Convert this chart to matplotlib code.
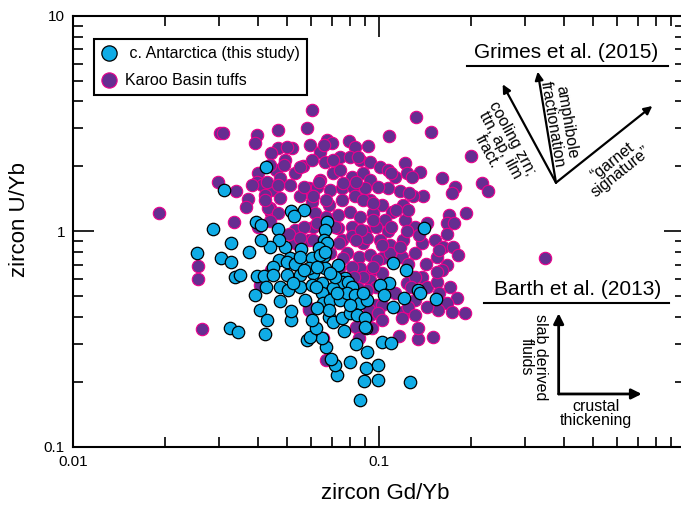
import numpy as np
import matplotlib
matplotlib.use('Agg')
import matplotlib.pyplot as plt
from matplotlib.lines import Line2D
from matplotlib import ticker

plt.rcParams['font.family'] = ['Liberation Sans', 'DejaVu Sans']

# zircon Gd/Yb and U/Yb, c. Antarctica (this study)
antarctica_gd_yb = [
    0.0427, 0.0312, 0.0286, 0.0253, 0.0328, 0.0375, 0.0304, 0.0327, 0.0337, 0.0351,
    0.0398, 0.0419, 0.0393, 0.0408, 0.0428, 0.0325, 0.0345, 0.0424, 0.0396, 0.0410,
    0.0513, 0.0568, 0.0526, 0.0468, 0.0492, 0.0471, 0.0439, 0.0412, 0.0677, 0.0665,
    0.0658, 0.0675, 0.0637, 0.0658, 0.0555, 0.0510, 0.0471, 0.0449, 0.0448, 0.0426,
    0.1395, 0.1109, 0.1224, 0.1074, 0.1006, 0.1040, 0.1341, 0.1363, 0.1204, 0.1529,
    0.1109, 0.0863, 0.1256, 0.0891, 0.0989, 0.0989, 0.0906, 0.0912, 0.0840, 0.1021,
    0.1094, 0.0802, 0.0725, 0.0714, 0.0697, 0.0669, 0.0651, 0.0581, 0.0593, 0.0622,
    0.0767, 0.0906, 0.0515, 0.0515, 0.0498, 0.0530, 0.0551, 0.0602, 0.0640, 0.0665,
    0.0498, 0.0551, 0.0609, 0.0665, 0.0735, 0.0773, 0.0754, 0.0474, 0.0504, 0.0551,
    0.0602, 0.0648, 0.0705, 0.0792, 0.0812, 0.0474, 0.0572, 0.0648, 0.0656, 0.0690,
    0.0744, 0.0783, 0.0833, 0.0865, 0.0910, 0.0887, 0.0602, 0.0683, 0.0705, 0.0754,
    0.0802, 0.0843, 0.0898, 0.0898, 0.0717, 0.0588, 0.0524, 0.0725, 0.0683, 0.0802,
    0.0624, 0.0622, 0.0691, 0.0626, 0.0568,
]
antarctica_u_yb = [
    1.98, 1.55, 1.02, 0.790, 0.885, 0.804, 0.754, 0.720, 0.611, 0.626,
    0.620, 0.620, 0.508, 0.431, 0.387, 0.357, 0.341, 0.334, 1.10, 1.07,
    1.24, 1.26, 1.17, 1.02, 0.848, 0.910, 0.848, 0.910, 1.10, 1.01,
    0.910, 0.879, 0.833, 0.768, 0.824, 0.748, 0.735, 0.684, 0.626, 0.553,
    1.04, 0.710, 0.661, 0.573, 0.563, 0.506, 0.534, 0.516, 0.489, 0.484,
    0.447, 0.164, 0.200, 0.202, 0.203, 0.239, 0.233, 0.274, 0.299, 0.305,
    0.304, 0.246, 0.215, 0.239, 0.256, 0.291, 0.321, 0.313, 0.323, 0.354,
    0.343, 0.354, 0.387, 0.427, 0.720, 0.708, 0.762, 0.748, 0.776, 0.804,
    0.626, 0.626, 0.637, 0.673, 0.697, 0.604, 0.583, 0.553, 0.534, 0.553,
    0.563, 0.573, 0.543, 0.583, 0.553, 0.472, 0.480, 0.516, 0.462, 0.480,
    0.480, 0.516, 0.506, 0.462, 0.480, 0.516, 0.387, 0.401, 0.380, 0.394,
    0.416, 0.408, 0.394, 0.360, 0.614, 0.673, 0.573, 0.516, 0.431, 0.455,
    0.440, 0.553, 0.637, 0.684, 0.661,
]

# Karoo Basin tuffs
karoo_gd_yb = [
    0.0191, 0.0302, 0.0309, 0.0397, 0.0393, 0.0298, 0.0340, 0.0336, 0.0255, 0.0256,
    0.0264, 0.0601, 0.0467, 0.0581, 0.1321, 0.1479, 0.1074, 0.1987, 0.2161, 0.2262,
    0.1922, 0.3485, 0.1903, 0.1501, 0.1341, 0.1341, 0.1158, 0.0840, 0.0654, 0.0669,
    0.0402, 0.0407, 0.0518, 0.0594, 0.0674, 0.0703, 0.0798, 0.0833, 0.0921, 0.0640,
    0.0465, 0.0444, 0.0492, 0.0563, 0.0602, 0.0665, 0.0744, 0.0802, 0.0865, 0.0932,
    0.1005, 0.1070, 0.1213, 0.0458, 0.0474, 0.0530, 0.0640, 0.0707, 0.0744, 0.0812,
    0.0887, 0.0932, 0.1125, 0.1228, 0.0444, 0.0511, 0.0588, 0.0624, 0.0690, 0.0754,
    0.0818, 0.0898, 0.1070, 0.1168, 0.0474, 0.0551, 0.0602, 0.0683, 0.0754, 0.0833,
    0.0932, 0.1018, 0.1098, 0.1198, 0.0439, 0.0617, 0.0735, 0.0802, 0.0865, 0.0955,
    0.1044, 0.1213, 0.0530, 0.0609, 0.0735, 0.0812, 0.0898, 0.0977, 0.1070, 0.0444,
    0.0754, 0.0812, 0.0887, 0.1005, 0.1084, 0.1198, 0.0530, 0.0588, 0.0402, 0.0398,
    0.0414, 0.0431, 0.0373, 0.0368, 0.0423, 0.0434, 0.1599, 0.1768, 0.1725, 0.1358,
    0.1275, 0.1392, 0.1291, 0.1694, 0.1660, 0.1432, 0.1309, 0.1660, 0.1521, 0.1376,
    0.1620, 0.1746, 0.1812, 0.1660, 0.1599, 0.1376, 0.1432, 0.1540, 0.1702, 0.1790,
    0.1660, 0.1725, 0.1558, 0.1309, 0.1417, 0.1540, 0.1309, 0.0783, 0.0859, 0.0932,
    0.1018, 0.1084, 0.1183, 0.0865, 0.0944, 0.1018, 0.0932, 0.0977, 0.0910, 0.1228,
    0.1198, 0.0977, 0.0932, 0.0944, 0.0859, 0.0588, 0.0444, 0.1183, 0.1250, 0.1135,
    0.1242, 0.1750, 0.0957, 0.1092, 0.1230, 0.1350, 0.0911, 0.1021, 0.1165, 0.1565,
    0.0986, 0.1242, 0.0957, 0.1308, 0.1540, 0.0884, 0.1265, 0.1565, 0.1242, 0.1308,
    0.1428, 0.0884, 0.0926, 0.1021, 0.0498, 0.0658, 0.0439, 0.0490, 0.0549, 0.0706,
    0.0855, 0.1092, 0.0384, 0.0465, 0.0568, 0.0637, 0.0763, 0.0840, 0.0989, 0.0423,
    0.0607, 0.0669, 0.0884, 0.0957, 0.0465, 0.0669, 0.0441, 0.0568, 0.0626, 0.0714,
    0.0869, 0.0506, 0.0549, 0.0607, 0.0738, 0.0840, 0.0691, 0.0763, 0.0816, 0.0738,
    0.0827, 0.0855, 0.0588, 0.0989, 0.1021, 0.1127,
]
karoo_u_yb = [
    1.22, 2.87, 2.85, 2.80, 2.56, 1.69, 1.53, 1.10, 0.690, 0.602,
    0.350, 3.64, 2.95, 3.00, 3.40, 2.89, 2.77, 2.24, 1.67, 1.53,
    1.21, 0.754, 0.416, 0.324, 0.317, 0.354, 0.327, 0.358, 0.319, 0.252,
    1.05, 0.563, 2.42, 2.51, 2.65, 2.56, 2.63, 2.47, 2.48, 2.34,
    2.42, 2.30, 2.14, 2.01, 2.14, 2.10, 2.22, 2.20, 2.14, 2.10,
    1.98, 1.92, 2.07, 1.92, 1.76, 1.86, 1.73, 1.86, 1.92, 1.79,
    1.86, 1.73, 1.79, 1.86, 1.55, 1.64, 1.58, 1.61, 1.55, 1.58,
    1.61, 1.58, 1.58, 1.53, 1.42, 1.45, 1.37, 1.32, 1.40, 1.45,
    1.40, 1.32, 1.23, 1.32, 1.28, 1.21, 1.19, 1.23, 1.16, 1.21,
    1.13, 1.13, 1.01, 1.05, 1.03, 1.05, 1.00, 1.05, 1.00, 1.21,
    0.910, 0.945, 0.879, 0.910, 0.863, 0.910, 0.879, 0.910, 1.86, 1.70,
    1.64, 1.70, 1.41, 1.29, 1.47, 1.28, 1.76, 1.60, 1.51, 1.89,
    1.79, 1.46, 1.45, 1.19, 1.09, 1.09, 1.05, 0.975, 0.910, 0.879,
    0.848, 0.848, 0.776, 0.697, 0.661, 0.615, 0.553, 0.583, 0.553, 0.489,
    0.462, 0.423, 0.431, 0.480, 0.708, 0.762, 0.790, 0.790, 0.762, 0.776,
    0.748, 0.790, 0.762, 0.673, 0.661, 0.637, 0.594, 0.553, 0.534, 0.573,
    0.423, 0.455, 0.408, 0.354, 0.319, 0.440, 0.661, 0.394, 1.50, 1.25,
    1.25, 1.09, 1.13, 1.05, 1.00, 0.960, 0.931, 0.863, 0.848, 0.818,
    0.735, 0.708, 0.684, 0.615, 0.650, 0.615, 0.553, 0.516, 0.447, 0.408,
    0.447, 0.489, 0.431, 0.455, 2.47, 2.51, 2.03, 2.03, 1.99, 2.14,
    2.22, 1.86, 1.64, 1.64, 1.61, 1.70, 1.67, 1.70, 1.61, 1.40,
    1.45, 1.40, 1.40, 1.35, 1.21, 1.16, 1.11, 1.05, 1.09, 1.05,
    1.01, 0.975, 0.927, 0.910, 0.879, 0.910, 0.790, 0.748, 0.684, 0.673,
    0.615, 0.543, 0.431, 0.419, 0.387, 0.516,
]

x_ticks = [0.01, 0.1, 1]
x_tick_labels = ['0.01', '0.1', '']   # 1 lies past the image edge
y_ticks = [0.1, 1, 10]
y_tick_labels = ['0.1', '1', '10']

blue = '#10ACE6'
purple = '#662D91'
magenta = '#EC008C'

fig = plt.figure(figsize=(6.81, 5.08), dpi=100)
# axes run to Gd/Yb = 1, a few pixels past the right edge of the image
ax = fig.add_axes([0.1076, 0.1207, 0.8987, 0.8484])

ax.scatter(karoo_gd_yb, karoo_u_yb, s=80, c=purple, edgecolors=magenta, linewidths=0.8, zorder=2)
ax.scatter(antarctica_gd_yb, antarctica_u_yb, s=80, c=blue, edgecolors='black', linewidths=0.9, zorder=3)

ax.set_xscale('log')
ax.set_yscale('log')
ax.set_xlim(0.01, 1)
ax.set_ylim(0.1, 10)
ax.set_xticks(x_ticks, x_tick_labels)
ax.set_yticks(y_ticks, y_tick_labels)
ax.xaxis.set_minor_formatter(ticker.NullFormatter())
ax.yaxis.set_minor_formatter(ticker.NullFormatter())
ax.tick_params(which='both', direction='in', top=True, right=True, width=1.2, labelsize=11)
ax.tick_params(which='major', length=15, pad=6)
ax.tick_params(which='minor', length=7.5)
for sp in ax.spines.values():
    sp.set_linewidth(1.5)

ax.set_xlabel('zircon Gd/Yb', fontsize=16)
ax.set_ylabel('zircon U/Yb', fontsize=16)
ax.xaxis.set_label_coords(0.509, -0.085)
ax.yaxis.set_label_coords(-0.07, 0.526)

handles = [
    Line2D([], [], ls='none', marker='o', ms=11, mfc=blue, mec='black', mew=0.9),
    Line2D([], [], ls='none', marker='o', ms=11, mfc=purple, mec=magenta, mew=0.8),
]
leg = ax.legend(handles, [' c. Antarctica (this study)', 'Karoo Basin tuffs'],
                loc='upper left', bbox_to_anchor=(0.0343, 0.946), borderaxespad=0,
                fancybox=False, edgecolor='black', framealpha=1, fontsize=11.5,
                handlelength=0.9, handletextpad=0.6, borderpad=0.45, labelspacing=0.75)
leg.get_frame().set_linewidth(1.5)

# Grimes et al. (2015) vectors
arrow = dict(arrowstyle='-|>', lw=1.6, color='black', mutation_scale=12, shrinkA=0, shrinkB=0)
ax.text(0.805, 0.914, 'Grimes et al. (2015)', transform=ax.transAxes, fontsize=15,
        ha='center', va='center')
ax.plot([0.6428, 0.9712], [0.8833, 0.8833], transform=ax.transAxes, color='black', lw=1.5, clip_on=False)
origin = (0.7887, 0.6125)
ax.annotate('', xy=(0.7016, 0.8408), xytext=origin, xycoords='axes fraction', arrowprops=arrow)
ax.annotate('', xy=(0.7588, 0.8701), xytext=origin, xycoords='axes fraction', arrowprops=arrow)
ax.annotate('', xy=(0.9461, 0.7905), xytext=origin, xycoords='axes fraction', arrowprops=arrow)
ax.text(0.697, 0.700, 'cooling zrn;\nttn, ap, ilm\nfract.', transform=ax.transAxes,
        rotation=-61.6, rotation_mode='anchor', ha='center', va='center',
        multialignment='center', fontsize=11.5, linespacing=0.95)
ax.text(0.7945, 0.751, 'amphibole\nfractionation', transform=ax.transAxes,
        rotation=-80.6, rotation_mode='anchor', ha='center', va='center',
        multialignment='center', fontsize=11.5, linespacing=0.95)
ax.text(0.888, 0.650, '\u201cgarnet\nsignature\u201d', transform=ax.transAxes,
        rotation=38.5, rotation_mode='anchor', ha='center', va='center',
        multialignment='center', fontsize=11.5, linespacing=0.95)

# Barth et al. (2013) vectors
ax.text(0.8239, 0.3636, 'Barth et al. (2013)', transform=ax.transAxes, fontsize=15,
        ha='center', va='center')
ax.plot([0.6716, 0.9739], [0.3327, 0.3327], transform=ax.transAxes, color='black', lw=1.5, clip_on=False)
corner = (0.7931, 0.1223)
arrow2 = dict(arrow, mutation_scale=15, lw=2)
ax.annotate('', xy=(0.7931, 0.3095), xytext=corner, xycoords='axes fraction', arrowprops=arrow2)
ax.annotate('', xy=(0.9288, 0.1223), xytext=corner, xycoords='axes fraction', arrowprops=arrow2)
ax.text(0.7511, 0.2081, 'slab derived\nfluids', transform=ax.transAxes,
        rotation=-90, rotation_mode='anchor', ha='center', va='center',
        multialignment='center', fontsize=11.5, linespacing=0.95)
ax.text(0.8541, 0.0770, 'crustal\nthickening', transform=ax.transAxes,
        ha='center', va='center', multialignment='center', fontsize=11.5, linespacing=0.95)

fig.savefig('out.png', dpi=100)
